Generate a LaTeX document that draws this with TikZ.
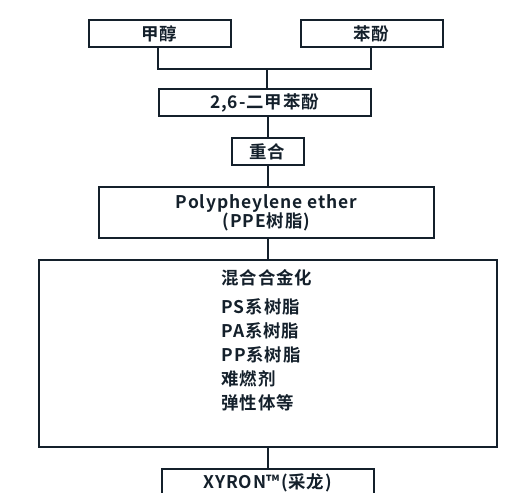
\documentclass[tikz,border=0pt]{standalone}
\usepackage{fontspec}
\setmainfont{Noto Sans CJK SC Bold}[LetterSpace=5]
\definecolor{ink}{HTML}{14202B}
\begin{document}
\begin{tikzpicture}[x=1bp,y=-1bp,line join=miter,
    box/.style={draw=ink,line width=2bp,rectangle,inner sep=0pt,minimum height=27bp,text=ink,font=\fontsize{17.5}{19}\selectfont},
    link/.style={draw=ink,line width=2bp},
  ]
    %%
    \clip (0,0) rectangle (520,493);
    \node (jc) at (159.5,34.0) [box,minimum width=142bp] {甲醇};
    \node (bf) at (371.5,34.0) [box,minimum width=142bp] {苯酚};
    \coordinate (junc) at (267.0,69.0);
    \node (dmp) at (264.5,103.0) [box,minimum width=212bp] {2,6-二甲苯酚};
    \node (poly) at (267.5,152.0) [box,minimum width=72bp] {重合};
    \node (ppe) at (266.5,212.5) [box,minimum width=335bp,minimum height=50bp,align=center] {Polypheylene ether\\(PPE树脂)};
    \node (alloy) at (268.0,353.0) [box,minimum width=457bp,minimum height=187bp] {};
    \node (mix) at (267.0,340.0) [text=ink,inner sep=0pt,align=left,font=\fontsize{17.5}{24}\selectfont] {混合合金化\\[5bp]PS系树脂\\PA系树脂\\PP系树脂\\难燃剂\\弹性体等};
    \node (xyron) at (267.5,488.0) [box,minimum width=212bp,minimum height=39bp] {};
    \node (xyrontext) at (267.5,483.0) [text=ink,inner sep=0pt,font=\fontsize{17.5}{19}\selectfont] {XYRON™(采龙)};
    \draw [link] (jc.south -| 157.7,0) |- (junc) -| (bf.south -| 371,0);
    \draw [link] (junc) -- (dmp.north -| junc);
    \draw [link] (dmp.south -| poly) -- (poly);
    \draw [link] (poly) -- (ppe.north -| poly);
    \draw [link] (ppe.south -| poly) -- (alloy.north -| poly);
    \draw [link] (alloy.south -| poly) -- (xyron);
    %
\end{tikzpicture}
\end{document}
